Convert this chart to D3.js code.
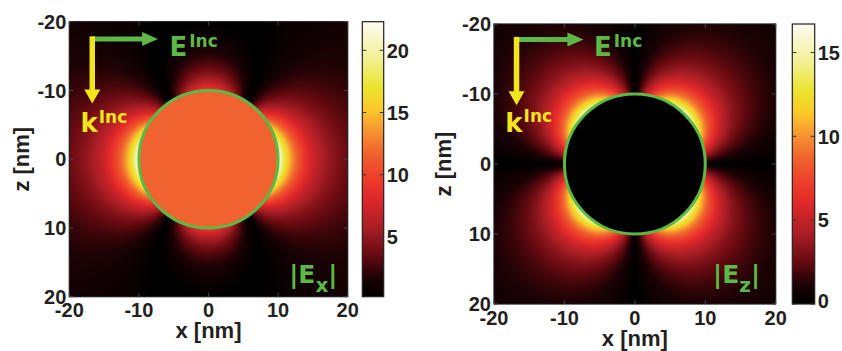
<!DOCTYPE html>
<html>
<head>
<meta charset="utf-8">
<script src="https://cdn.jsdelivr.net/npm/d3@7"></script>
<style>
  html, body { margin: 0; padding: 0; background: #fff; }
  svg text { font-family: "Liberation Sans", Arial, sans-serif; font-weight: bold; fill: #231f20; }
  svg text.note { font-family: "DejaVu Sans", Verdana, sans-serif; }
</style>
</head>
<body>
<svg id="chart" width="842" height="351"></svg>
<script>
// axes (nm)
const axisExtent = [-20, 20];
const xTicks = [-20, -10, 0, 10, 20];
const zTicks = [-20, -10, 0, 10, 20];

// sphere: radius and quasi-static factor (eps-1)/(eps+2), read from the peaks (~22 for |Ex|, ~16 for |Ez|)
const sphereRadius = [10];
const sphereFactor = [10.8];
const exInside = [11.7];

// colour bars
const exRange = [0.2, 22.3];
const ezRange = [0, 16.7];
const exBarTicks = [5, 10, 15, 20];
const ezBarTicks = [0, 5, 10, 15];
const components = ["x", "z"];

// colour map (fraction of bar height -> colour)
const cmapStops = [0, 0.07, 0.15, 0.25, 0.36, 0.42, 0.52, 0.62, 0.68, 0.76, 0.86, 1];
const cmapColors = ["#000000", "#1c0204", "#650a10", "#a81e25", "#e0282a", "#ec3a2a",
                    "#f0622e", "#f6a030", "#fcc82a", "#e9e42c", "#f2ef90", "#fdfcf3"];

const green = "#5cb946", yellow = "#f2e51b";

const layout = [
  { x0: 69.3, x1: 347.7, y0: 21.7, y1: 296.7, cb0: 362.3, cb1: 383.7, zLabelX: 21,
    range: exRange, barTicks: exBarTicks,
    arrow: [-16.7, -17.5], eTip: -7.25, kTip: -8.1, eText: [-5.6, -15.0], kText: [-18.4, -3.9], tag: [11.6, 18.05] },
  { x0: 494, x1: 775.7, y0: 24, y1: 304, cb0: 792.3, cb1: 814.7, zLabelX: 443,
    range: ezRange, barTicks: ezBarTicks,
    arrow: [-16.8, -17.8], eTip: -7.3, kTip: -8.4, eText: [-5.8, -15.5], kText: [-18.4, -4.6], tag: [11.1, 17.0] }
];

const cmap = d3.scaleLinear().domain(cmapStops).range(cmapColors).clamp(true);

function field(comp, x, z) {
  const R = sphereRadius[0], g = sphereFactor[0];
  const r2 = x * x + z * z;
  if (r2 < R * R) return comp === "x" ? exInside[0] : 0;
  const r5 = r2 * r2 * Math.sqrt(r2);
  const a = g * R * R * R;
  if (comp === "x") return Math.abs(1 + a * (3 * x * x - r2) / r5);
  return Math.abs(a * 3 * x * z / r5);
}

const svg = d3.select("#chart");
const defs = svg.append("defs");

layout.forEach((p, idx) => {
  const comp = components[idx];
  const xs = d3.scaleLinear().domain(axisExtent).range([p.x0, p.x1]);
  const zs = d3.scaleLinear().domain(axisExtent).range([p.y0, p.y1]);
  const toT = d3.scaleLinear().domain(p.range).range([0, 1]);
  const g = svg.append("g");

  // heat map on a canvas, then into the svg
  const w = Math.round(p.x1 - p.x0) * 2, h = Math.round(p.y1 - p.y0) * 2;
  const canvas = document.createElement("canvas");
  canvas.width = w; canvas.height = h;
  const ctx = canvas.getContext("2d");
  const img = ctx.createImageData(w, h);
  const sx = d3.scaleLinear().domain([0, w]).range(axisExtent);
  const sz = d3.scaleLinear().domain([0, h]).range(axisExtent);
  for (let j = 0; j < h; j++) {
    const z = sz(j + 0.5);
    for (let i = 0; i < w; i++) {
      const c = d3.rgb(cmap(toT(field(comp, sx(i + 0.5), z))));
      const k = (j * w + i) * 4;
      img.data[k] = c.r; img.data[k + 1] = c.g; img.data[k + 2] = c.b; img.data[k + 3] = 255;
    }
  }
  ctx.putImageData(img, 0, 0);
  g.append("image")
    .attr("x", p.x0).attr("y", p.y0)
    .attr("width", p.x1 - p.x0).attr("height", p.y1 - p.y0)
    .attr("preserveAspectRatio", "none")
    .attr("href", canvas.toDataURL());

  // sphere outline
  g.append("ellipse")
    .attr("cx", xs(0)).attr("cy", zs(0))
    .attr("rx", xs(sphereRadius[0]) - xs(0)).attr("ry", zs(sphereRadius[0]) - zs(0))
    .attr("fill", "none").attr("stroke", green).attr("stroke-width", 3);

  // frame and inward ticks
  g.append("rect")
    .attr("x", p.x0).attr("y", p.y0).attr("width", p.x1 - p.x0).attr("height", p.y1 - p.y0)
    .attr("fill", "none").attr("stroke", "#1a1a1a").attr("stroke-width", 1.2);
  const tickCol = "#444450";
  xTicks.forEach(t => {
    g.append("line").attr("x1", xs(t)).attr("x2", xs(t)).attr("y1", p.y1).attr("y2", p.y1 - 4)
      .attr("stroke", tickCol);
    g.append("line").attr("x1", xs(t)).attr("x2", xs(t)).attr("y1", p.y0).attr("y2", p.y0 + 4)
      .attr("stroke", tickCol);
  });
  zTicks.forEach(t => {
    g.append("line").attr("x1", p.x0).attr("x2", p.x0 + 4).attr("y1", zs(t)).attr("y2", zs(t))
      .attr("stroke", tickCol);
    g.append("line").attr("x1", p.x1).attr("x2", p.x1 - 4).attr("y1", zs(t)).attr("y2", zs(t))
      .attr("stroke", tickCol);
  });

  g.selectAll(".xt").data(xTicks).enter().append("text")
    .attr("x", d => xs(d)).attr("y", p.y1 + 20.5)
    .attr("text-anchor", "middle").attr("font-size", 20).text(d => d);
  g.selectAll(".zt").data(zTicks).enter().append("text")
    .attr("x", p.x0 - 3).attr("y", d => zs(d)).attr("dy", "0.36em")
    .attr("text-anchor", "end").attr("font-size", 20).text(d => d);

  g.append("text").attr("x", xs(0)).attr("y", p.y1 + 41.5)
    .attr("text-anchor", "middle").attr("font-size", 22).text("x [nm]");
  g.append("text")
    .attr("transform", `translate(${p.zLabelX},${zs(0)}) rotate(-90)`)
    .attr("dy", "0.36em").attr("text-anchor", "middle").attr("font-size", 22).text("z [nm]");

  // incidence arrows
  const ox = xs(p.arrow[0]), oz = zs(p.arrow[1]);
  const ex = xs(p.eTip), kz = zs(p.kTip);
  g.append("line").attr("x1", ox).attr("y1", oz).attr("x2", ex - 14).attr("y2", oz)
    .attr("stroke", green).attr("stroke-width", 5);
  g.append("path").attr("fill", green)
    .attr("d", `M${ex},${oz} L${ex - 16},${oz - 7} L${ex - 16},${oz + 7} Z`);
  g.append("line").attr("x1", ox).attr("y1", oz - 2.5).attr("x2", ox).attr("y2", kz - 12)
    .attr("stroke", yellow).attr("stroke-width", 5.5);
  g.append("path").attr("fill", yellow)
    .attr("d", `M${ox},${kz} L${ox - 8},${kz - 14} L${ox + 8},${kz - 14} Z`);

  const eT = g.append("text").attr("class", "note").attr("x", xs(p.eText[0])).attr("y", zs(p.eText[1]))
    .attr("font-size", 26).style("fill", green);
  eT.append("tspan").text("E");
  eT.append("tspan").attr("dx", 2).attr("dy", -9).attr("font-size", 17).text("Inc");

  const kT = g.append("text").attr("class", "note").attr("x", xs(p.kText[0])).attr("y", zs(p.kText[1]))
    .attr("font-size", 26).style("fill", yellow);
  kT.append("tspan").text("k");
  kT.append("tspan").attr("dx", 1).attr("dy", -9.5).attr("font-size", 17).text("Inc");

  const tag = g.append("text").attr("class", "note").attr("x", xs(p.tag[0])).attr("y", zs(p.tag[1]))
    .attr("font-size", 25).style("fill", green);
  tag.append("tspan").text("|E");
  tag.append("tspan").attr("dy", 8.5).attr("font-size", 20).text(comp);
  tag.append("tspan").attr("dy", -8.5).text("|");

  // colour bar
  const grad = defs.append("linearGradient").attr("id", "cb" + idx)
    .attr("x1", 0).attr("y1", 1).attr("x2", 0).attr("y2", 0);
  d3.range(0, 1.0001, 0.02).forEach(t => {
    grad.append("stop").attr("offset", t).attr("stop-color", cmap(t));
  });
  const cs = d3.scaleLinear().domain(p.range).range([p.y1, p.y0]);
  g.append("rect")
    .attr("x", p.cb0).attr("y", p.y0).attr("width", p.cb1 - p.cb0).attr("height", p.y1 - p.y0)
    .attr("fill", `url(#cb${idx})`).attr("stroke", "#231f20").attr("stroke-width", 1.2);
  p.barTicks.forEach(t => {
    g.append("line").attr("x1", p.cb0).attr("x2", p.cb0 + 4).attr("y1", cs(t)).attr("y2", cs(t))
      .attr("stroke", "#333");
    g.append("line").attr("x1", p.cb1).attr("x2", p.cb1 - 4).attr("y1", cs(t)).attr("y2", cs(t))
      .attr("stroke", "#333");
  });
  g.selectAll(".ct").data(p.barTicks).enter().append("text")
    .attr("x", p.cb1 + 3).attr("y", d => Math.min(cs(d), p.y1 - 3)).attr("dy", "0.36em")
    .attr("font-size", 20).text(d => d);
});
</script>
</body>
</html>
